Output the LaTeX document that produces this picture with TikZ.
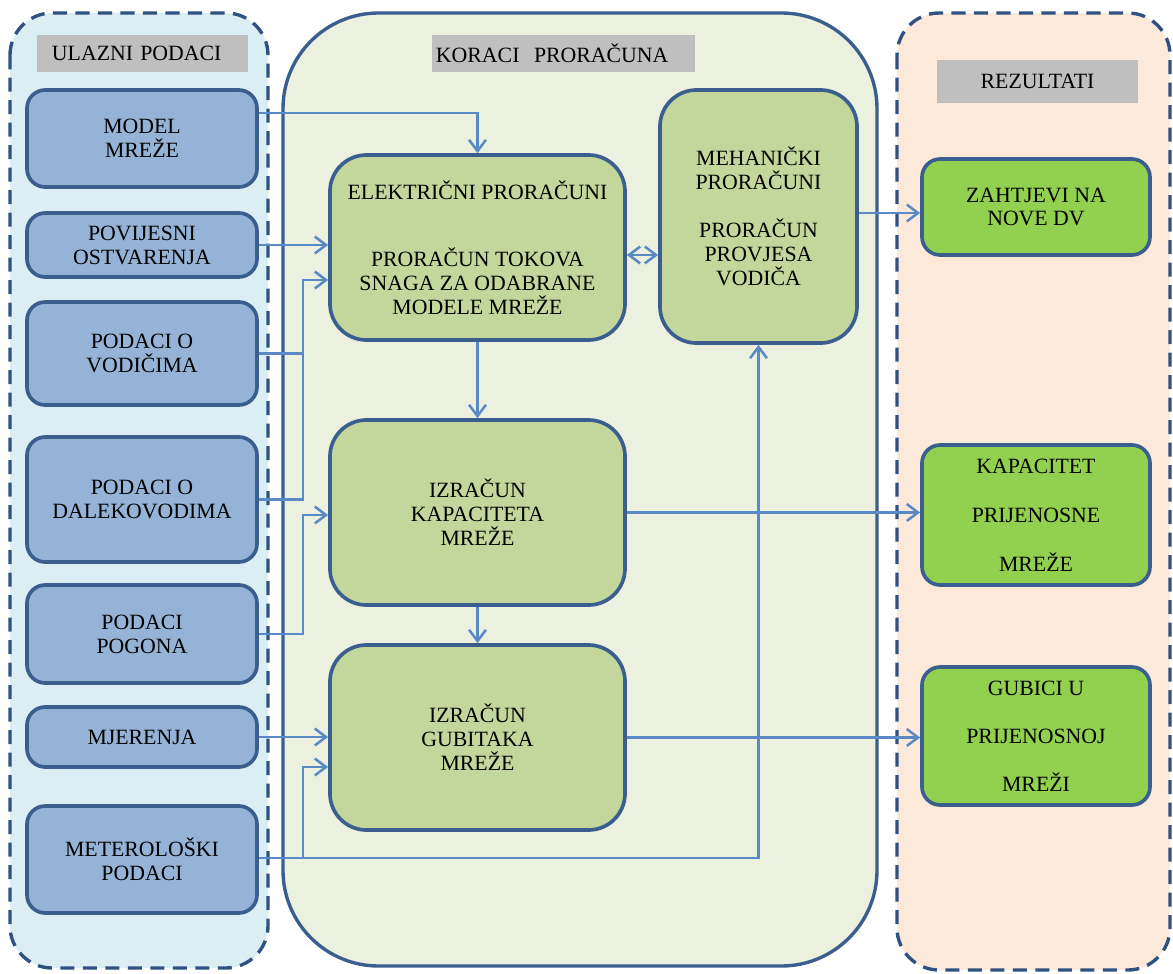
\documentclass[tikz,border=0pt]{standalone}
\usepackage{fontspec}
\setmainfont{Liberation Serif}
\usetikzlibrary{arrows.meta}
\definecolor{bordblue}{HTML}{3A5F8F}
\definecolor{dashblue}{HTML}{2F5283}
\definecolor{linkblue}{HTML}{5A8AC6}
\definecolor{inblue}{HTML}{95B3D7}
\definecolor{stepolive}{HTML}{C3D69B}
\definecolor{outgreen}{HTML}{92D050}
\definecolor{panelL}{HTML}{DBEEF4}
\definecolor{panelM}{HTML}{EBF1DE}
\definecolor{panelR}{HTML}{FDE9D9}
\definecolor{titlegray}{HTML}{BFBFBF}

\begin{document}
\begin{tikzpicture}[x=0.025cm,y=-0.025cm]

\tikzset{box/.style = {draw=bordblue,line width=2.6pt,align=center,font=\fontsize{15.5}{17}\selectfont}}
\tikzset{inbox/.style = {box,fill=inblue,rounded corners=13pt,minimum width=5.75cm}}
\tikzset{stepbox/.style = {box,fill=stepolive,rounded corners=26pt}}
\tikzset{outbox/.style = {box,fill=outgreen,rounded corners=13pt,minimum width=5.7cm}}
\tikzset{title/.style = {fill=titlegray,minimum height=0.925cm,font=\fontsize{15.5}{17}\selectfont}}
\tikzset{edge/.style = {->,> = {Straight Barb[length=8pt,width=12pt]},draw=linkblue,line width=1.8pt}}
\tikzset{panel/.style = {draw=dashblue,line width=2.4pt,dash pattern=on 10pt off 6pt,rounded corners=30pt}}

\useasboundingbox (0,0) rectangle (1173,974);
% panels
\draw[panel,fill=panelL] (10,13) rectangle (268,968);
\draw[draw=bordblue,line width=2.4pt,fill=panelM,rounded corners=68pt] (283,13) rectangle (877,966);
\draw[panel,fill=panelR] (897,13) rectangle (1170,970);

% titles
\node[title,text width=4.525cm,inner xsep=0.375cm,align=left] (tin) at (142.5,53.5) {ULAZNI PODACI};
\node[title,text width=6.375cm,inner xsep=0.1cm,align=left] (tstep) at (563.5,53.5) {KORACI~ PRORAČUNA};
\node[title,minimum width=5.025cm,minimum height=1.075cm] (tout) at (1037.5,81.5) {REZULTATI};

% input data
\node[inbox,minimum height=2.425cm] (mdl) at (142,138.5) {MODEL\\MREŽE};
\node[inbox,minimum height=1.6cm] (pov) at (142,245) {POVIJESNI\\OSTVARENJA};
\node[inbox,minimum height=2.575cm] (vod) at (142,353.5) {PODACI O\\VODIČIMA};
\node[inbox,minimum height=3.125cm] (dal) at (142,499.5) {PODACI O\\DALEKOVODIMA};
\node[inbox,minimum height=2.45cm] (pog) at (142,634) {PODACI\\POGONA};
\node[inbox,minimum height=1.5cm] (mje) at (142,737) {MJERENJA};
\node[inbox,minimum height=2.675cm] (met) at (142,859.5) {METEROLOŠKI\\PODACI};

% calculation steps
\node[stepbox,minimum width=7.375cm,minimum height=4.625cm] (ele) at (477.5,247.5)
  {ELEKTRIČNI PRORAČUNI\\[31pt]PRORAČUN TOKOVA\\SNAGA ZA ODABRANE\\MODELE MREŽE};
\node[stepbox,minimum width=7.375cm,minimum height=4.625cm] (kap) at (477.5,512.5) {IZRAČUN\\KAPACITETA\\MREŽE};
\node[stepbox,minimum width=7.375cm,minimum height=4.625cm] (gub) at (477.5,737.5) {IZRAČUN\\GUBITAKA\\MREŽE};
\node[stepbox,minimum width=4.925cm,minimum height=6.325cm] (meh) at (758.5,216.5)
  {MEHANIČKI\\PRORAČUNI\\[17pt]PRORAČUN\\PROVJESA\\VODIČA};

% results
\node[outbox,minimum height=2.4cm] (zah) at (1036,207) {ZAHTJEVI NA\\NOVE DV};
\node[outbox,minimum height=3.5cm] (kpm) at (1036,515) {KAPACITET\\[18pt]PRIJENOSNE\\[18pt]MREŽE};
\node[outbox,minimum height=3.45cm] (gpm) at (1036,736) {GUBICI U\\[17pt]PRIJENOSNOJ\\[17pt]MREŽI};

\coordinate (bus) at (303,0);
%edges
\draw[edge] (mdl.east |- 0,113) -| (ele.north);
\draw[edge] (pov.east) -- (pov.east -| ele.west);
\draw[edge,-] (vod.east) -- (vod.east -| bus);
\draw[edge] (dal.east) -| (bus |- 0,280) -- (ele.west |- 0,280);
\draw[edge] (pog.east) -| (bus |- 0,515) -- (kap.west |- 0,515);
\draw[edge] (mje.east) -- (mje.east -| gub.west);
\draw[edge] (met.east |- 0,858) -| (meh.south);
\draw[edge] (bus |- 0,858) |- (gub.west |- 0,767);
\draw[edge] (ele.south) -- (kap.north);
\draw[edge] (kap.south) -- (gub.north);
\draw[edge,<->] (ele.east |- 0,255) -- (meh.west |- 0,255);
\draw[edge] (meh.east |- 0,213) -- (zah.west |- 0,213);
\draw[edge] (kap.east) -- (kap.east -| kpm.west);
\draw[edge] (gub.east) -- (gub.east -| gpm.west);
\end{tikzpicture}
\end{document}
